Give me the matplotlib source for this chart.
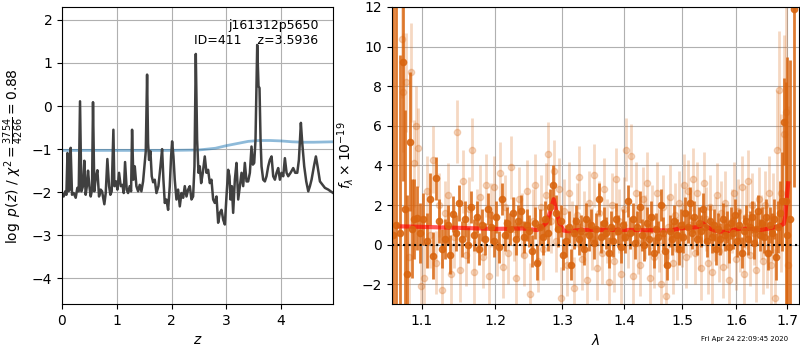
import matplotlib
matplotlib.use('Agg')
import matplotlib.pyplot as plt
from matplotlib.ticker import FixedLocator, NullLocator

# --- left panel: log p(z)
z_grid = [0.0, 0.03, 0.06, 0.08, 0.10, 0.116, 0.14, 0.158, 0.183, 0.213, 0.25, 0.28, 0.305, 0.329,
          0.353, 0.384, 0.408, 0.432, 0.457, 0.475, 0.50, 0.524, 0.548, 0.566, 0.59, 0.615, 0.646,
          0.676, 0.706, 0.731, 0.773, 0.798, 0.828, 0.859, 0.883, 0.907, 0.938, 0.956, 0.987,
          1.011, 1.041, 1.072, 1.102, 1.127, 1.151, 1.181, 1.206, 1.236, 1.261, 1.279, 1.303,
          1.328, 1.358, 1.389, 1.419, 1.449, 1.480, 1.504, 1.529, 1.553, 1.571, 1.589, 1.614,
          1.638, 1.663, 1.693, 1.724, 1.760, 1.797, 1.827, 1.851, 1.876, 1.906, 1.937, 1.967,
          1.991, 2.010, 2.034, 2.058, 2.089, 2.119, 2.150, 2.180, 2.211, 2.241, 2.272, 2.302,
          2.333, 2.363, 2.393, 2.418, 2.442, 2.466, 2.491, 2.515, 2.540, 2.570, 2.606, 2.637,
          2.667, 2.698, 2.728, 2.759, 2.789, 2.820, 2.850, 2.881, 2.911, 2.942, 2.972, 3.002,
          3.033, 3.057, 3.076, 3.100, 3.124, 3.155, 3.185, 3.216, 3.246, 3.277, 3.307, 3.337,
          3.368, 3.398, 3.429, 3.459, 3.484, 3.508, 3.532, 3.563, 3.587, 3.605, 3.624, 3.642,
          3.672, 3.703, 3.733, 3.764, 3.794, 3.825, 3.855, 3.886, 3.916, 3.946, 3.977, 4.007,
          4.038, 4.068, 4.099, 4.129, 4.172, 4.220, 4.257, 4.294, 4.324, 4.360, 4.385, 4.421,
          4.458, 4.495, 4.525, 4.555, 4.598, 4.634, 4.665, 4.708, 4.756, 4.799, 4.860, 4.903,
          4.951]
log_pz = [-2.02, -2.10, -1.98, -2.06, -1.09, -1.98, -1.94, -0.97, -2.06, -2.02, -2.13, -1.90, -1.98,
          0.11, -1.98, -1.86, -1.27, -2.06, -1.83, -1.50, -1.86, -2.10, -1.94, 0.09, -1.98, -1.67,
          -1.49, -2.10, -1.94, -1.98, -2.28, -2.02, -1.23, -1.86, -2.06, -1.98, -0.55, -1.86,
          -1.75, -1.94, -1.55, -1.86, -1.83, -2.02, -1.30, -1.94, -2.02, -1.86, -1.98, -0.55,
          -1.71, -1.40, -1.86, -1.98, -1.83, -1.98, -1.75, -1.40, -1.05, 0.73, -0.86, -1.25,
          -1.05, -1.63, -1.77, -1.71, -2.02, -1.86, -1.40, -1.00, -1.71, -2.25, -2.17, -2.41,
          -1.86, -1.17, -0.82, -1.17, -1.71, -2.17, -1.94, -2.33, -2.02, -2.13, -1.86, -2.10,
          -1.94, -1.86, -2.17, -2.10, -1.40, 1.21, -0.78, -1.55, -1.40, -1.79, -1.55, -1.17,
          -1.55, -1.48, -1.79, -1.71, -2.17, -2.25, -2.10, -2.71, -2.48, -2.41, -2.64, -2.75,
          -2.10, -1.48, -1.63, -2.17, -1.86, -2.48, -1.71, -1.32, -2.17, -1.86, -1.55, -1.86,
          -1.32, -1.75, -1.75, -1.55, -0.94, -1.36, -1.32, -0.78, 1.42, 0.46, 0.42, -0.78,
          -1.40, -1.71, -1.75, -1.63, -1.40, -1.25, -1.17, -1.63, -1.71, -1.55, -1.44, -1.71,
          -1.55, -1.63, -1.21, -1.55, -1.63, -1.55, -1.44, -1.55, -1.55, -1.25, -0.39, -0.86,
          -1.40, -1.75, -1.98, -1.86, -1.71, -1.40, -1.17, -1.40, -1.75, -1.83, -1.90, -1.94,
          -1.98, -2.02]

z_prior = [0.0, 0.5, 1.0, 1.5, 2.0, 2.5, 2.8, 3.0, 3.2, 3.4, 3.6, 3.8, 4.0, 4.2, 4.4, 4.6, 4.95]
log_prior = [-1.03, -1.03, -1.03, -1.03, -1.03, -1.02, -0.98, -0.92, -0.87, -0.82, -0.80, -0.80,
             -0.81, -0.83, -0.84, -0.84, -0.83]

# --- right panel: spectrum, first (darker) set
wave_a = [1.063, 1.067, 1.072, 1.075, 1.078, 1.081, 1.084, 1.087, 1.090, 1.094,
          1.098, 1.102, 1.106, 1.110, 1.114, 1.118, 1.122, 1.126, 1.130, 1.134,
          1.138, 1.142, 1.146, 1.150, 1.154, 1.158, 1.162, 1.166, 1.170, 1.174,
          1.178, 1.182, 1.186, 1.190, 1.194, 1.198, 1.202, 1.206, 1.210, 1.214,
          1.218, 1.222, 1.226, 1.230, 1.234, 1.238, 1.242, 1.246, 1.250, 1.254,
          1.258, 1.262, 1.266, 1.270, 1.274, 1.278, 1.282, 1.286, 1.290, 1.294,
          1.298, 1.302, 1.306, 1.310, 1.314, 1.318, 1.322, 1.326, 1.330, 1.334,
          1.338, 1.342, 1.346, 1.350, 1.354, 1.358, 1.362, 1.366, 1.370, 1.374,
          1.378, 1.382, 1.386, 1.390, 1.394, 1.398, 1.402, 1.406, 1.410, 1.414,
          1.418, 1.422, 1.426, 1.430, 1.434, 1.438, 1.442, 1.446, 1.450, 1.454,
          1.458, 1.462, 1.466, 1.470, 1.474, 1.478, 1.482, 1.486, 1.490, 1.494,
          1.498, 1.502, 1.506, 1.510, 1.514, 1.518, 1.522, 1.526, 1.530, 1.534,
          1.538, 1.542, 1.546, 1.550, 1.554, 1.558, 1.562, 1.566, 1.570, 1.574,
          1.578, 1.582, 1.586, 1.590, 1.594, 1.598, 1.602, 1.606, 1.610, 1.614,
          1.618, 1.622, 1.626, 1.630, 1.634, 1.638, 1.642, 1.646, 1.650, 1.654,
          1.658, 1.662, 1.666, 1.670, 1.674, 1.678, 1.682, 1.686, 1.690, 1.694,
          1.697, 1.700, 1.705, 1.713]
flux_a = [0.5, 1.0, 0.6, 9.2, 1.8, -1.5, 5.2, 0.8, 1.3, 1.35,
          0.6, 1.3, 0.2, 2.3, -0.55, 3.35, 1.2, -0.2, 0.3, 1.0,
          -0.5, 1.55, 0.6, 2.1, 0.3, 1.3, 0.0, 1.9, 0.5, 1.4,
          -0.2, 1.0, 0.3, 1.8, 0.9, 0.2, 1.4, -0.1, 2.3, 0.5,
          1.1, 0.8, 1.6, 0.3, 1.2, 1.7, 0.4, 1.0, 0.7, -0.3,
          1.1, -0.9, 0.9, 0.4, 1.3, 0.6, 1.9, 3.0, 1.6, 0.8,
          1.2, -0.5, 0.2, 0.9, -1.0, 0.6, 1.2, 0.3, 0.7, -0.2,
          1.3, 0.5, 1.0, 0.1, 0.8, 2.3, 0.4, 1.1, 0.6, -0.4,
          0.9, 0.2, 1.3, 0.7, -0.1, 1.0, 0.4, 2.2, 0.6, 1.3,
          0.1, 0.9, 1.9, 0.5, 0.0, 1.1, 0.3, 1.4, -0.4, 0.8,
          0.4, 2.0, 0.6, -0.3, -1.0, 0.7, 0.3, 1.2, 0.5, -0.2,
          1.0, 0.4, 1.6, 0.9, 2.1, 0.6, 1.4, 0.3, 1.1, 0.7,
          1.8, 0.9, 0.2, 1.2, 0.4, 1.0, -0.2, 0.8, 0.3, 1.3,
          0.5, 0.9, -0.1, 1.1, 0.6, 1.5, 0.2, 1.0, -0.4, 0.7,
          1.2, 0.3, 0.9, 1.4, 0.1, 0.8, 1.7, 0.5, 1.1, 0.4,
          1.4, -0.4, 1.0, 0.6, 1.3, -0.6, 0.9, 1.6, 2.2, 6.2,
          2.2, 0.5, 1.3, 11.9]
err_a = [20, 20, 9, 6, 5, 4, 3.5, 2.5, 2.0, 1.6,
         1.5, 1.3, 1.4, 1.3, 1.2, 1.1, 1.1, 1.0, 1.0, 1.0,
         1.0, 0.9, 0.9, 0.9, 0.9, 0.9, 0.9, 0.8, 0.8, 0.8,
         0.8, 0.8, 0.8, 0.8, 0.8, 0.8, 0.8, 0.8, 0.8, 0.8,
         0.8, 0.8, 0.8, 0.8, 0.8, 0.8, 0.8, 0.8, 0.8, 0.8,
         0.8, 0.9, 0.9, 0.9, 0.9, 0.9, 0.9, 1.0, 0.9, 0.9,
         0.8, 0.8, 0.8, 0.8, 0.8, 0.8, 0.8, 0.8, 0.8, 0.8,
         0.8, 0.8, 0.8, 0.8, 0.8, 0.8, 0.8, 0.8, 0.8, 0.8,
         0.8, 0.8, 0.8, 0.8, 0.8, 0.8, 0.8, 0.8, 0.8, 0.8,
         0.8, 0.8, 0.8, 0.8, 0.8, 0.8, 0.8, 0.8, 0.8, 0.8,
         0.8, 0.8, 0.8, 0.8, 0.8, 0.8, 0.8, 0.8, 0.8, 0.8,
         0.8, 0.8, 0.8, 0.8, 0.8, 0.8, 0.8, 0.8, 0.8, 0.8,
         0.8, 0.8, 0.8, 0.8, 0.8, 0.8, 0.8, 0.8, 0.8, 0.8,
         0.8, 0.8, 0.8, 0.8, 0.8, 0.8, 0.8, 0.8, 0.8, 0.8,
         0.8, 0.8, 0.8, 0.8, 0.8, 0.8, 0.8, 0.8, 0.8, 0.8,
         0.9, 0.9, 0.9, 1.0, 1.0, 1.2, 1.3, 1.6, 2.5, 2.2,
         6, 9, 8, 9]

# second (faint) set
wave_b = [1.074, 1.076, 1.079, 1.083, 1.086, 1.089, 1.092, 1.095, 1.099, 1.103,
          1.107, 1.111, 1.115, 1.119, 1.123, 1.127, 1.131, 1.135, 1.139, 1.143,
          1.147, 1.151, 1.155, 1.159, 1.163, 1.167, 1.171, 1.175, 1.179, 1.183,
          1.187, 1.191, 1.195, 1.199, 1.203, 1.207, 1.211, 1.215, 1.219, 1.223,
          1.227, 1.231, 1.235, 1.239, 1.243, 1.247, 1.251, 1.255, 1.259, 1.263,
          1.267, 1.271, 1.275, 1.279, 1.283, 1.287, 1.291, 1.295, 1.299, 1.303,
          1.307, 1.311, 1.315, 1.319, 1.323, 1.327, 1.331, 1.335, 1.339, 1.343,
          1.347, 1.351, 1.355, 1.359, 1.363, 1.367, 1.371, 1.375, 1.379, 1.383,
          1.387, 1.391, 1.395, 1.399, 1.403, 1.407, 1.411, 1.415, 1.419, 1.423,
          1.427, 1.431, 1.435, 1.439, 1.443, 1.447, 1.451, 1.455, 1.459, 1.463,
          1.467, 1.471, 1.475, 1.479, 1.483, 1.487, 1.491, 1.495, 1.499, 1.503,
          1.507, 1.511, 1.515, 1.519, 1.523, 1.527, 1.531, 1.535, 1.539, 1.543,
          1.547, 1.551, 1.555, 1.559, 1.563, 1.567, 1.571, 1.575, 1.579, 1.583,
          1.587, 1.591, 1.595, 1.599, 1.603, 1.607, 1.611, 1.615, 1.619, 1.623,
          1.627, 1.631, 1.635, 1.639, 1.643, 1.647, 1.651, 1.655, 1.659, 1.663,
          1.667, 1.671, 1.675, 1.679, 1.683, 1.688, 1.693, 1.697, 1.701]
flux_b = [10.4, 7.7, 8.2, -0.6, 8.7, 4.1, 6.0, 4.9, -2.1, -1.7,
          2.7, 0.5, 4.3, -0.9, 2.0, -2.3, 1.6, 2.5, -1.5, 0.4,
          5.7, -1.3, 3.2, -0.5, 1.8, 4.8, -1.4, 1.2, 2.4, -0.6,
          3.0, -1.6, 1.5, 2.9, 0.0, 3.6, -1.1, 1.9, -0.4, 3.9,
          0.8, -1.7, 2.3, 1.0, -0.5, 2.7, -2.5, 1.2, 3.0, -0.8,
          1.9, -0.2, 2.5, 4.6, 1.2, 3.7, 0.2, 2.8, -2.7, 1.7,
          -1.0, 2.6, 0.6, -2.2, 1.5, 3.4, -0.7, 1.1, -1.8, 2.1,
          0.3, 3.5, -1.2, 1.6, -0.4, 2.8, 0.7, -1.9, 2.0, -0.8,
          3.3, 1.2, -1.5, 1.8, 4.8, 0.4, 4.5, -1.6, 2.6, 0.1,
          -1.0, 2.3, 0.9, 3.1, -1.7, 1.4, -0.6, 2.6, 0.2, -2.0,
          1.9, -2.6, 0.9, 2.4, -0.9, 1.5, -0.2, 2.1, 0.5, 3.0,
          -0.6, 2.7, 1.0, 3.3, -0.4, 2.6, 0.3, -1.2, 3.1, 1.3,
          -0.9, 1.9, -1.4, 0.8, 2.5, -0.3, 1.6, -1.1, 2.1, 0.4,
          -1.8, 1.2, 2.6, -0.7, 1.7, 0.2, 2.9, -1.5, 1.4, 3.2,
          -0.5, 2.0, 0.6, -1.3, 2.3, 0.9, -0.8, 2.0, -0.4, 2.6,
          -1.0, 1.4, -2.7, 4.8, 7.8, 2.6, 5.6, 6.7, -1.0]
err_b = [3, 3, 2.5, 2.5, 2.5, 2.2, 2.0, 2.0, 2.0, 1.8,
         1.8, 1.7, 1.7, 1.6, 1.6, 1.6, 1.6, 1.6, 1.6, 1.6,
         1.6, 1.6, 1.6, 1.6, 1.6, 1.6, 1.6, 1.6, 1.6, 1.6,
         1.6, 1.6, 1.6, 1.6, 1.6, 1.6, 1.6, 1.6, 1.6, 1.6,
         1.6, 1.6, 1.6, 1.6, 1.6, 1.6, 1.6, 1.6, 1.6, 1.6,
         1.6, 1.6, 1.6, 1.6, 1.6, 1.6, 1.6, 1.6, 1.6, 1.6,
         1.6, 1.6, 1.6, 1.6, 1.6, 1.6, 1.6, 1.6, 1.6, 1.6,
         1.6, 1.6, 1.6, 1.6, 1.6, 1.6, 1.6, 1.6, 1.6, 1.6,
         1.6, 1.6, 1.6, 1.6, 1.6, 1.6, 1.6, 1.6, 1.6, 1.6,
         1.6, 1.6, 1.6, 1.6, 1.6, 1.6, 1.6, 1.6, 1.6, 1.6,
         1.6, 1.6, 1.6, 1.6, 1.6, 1.6, 1.6, 1.6, 1.6, 1.6,
         1.6, 1.6, 1.6, 1.6, 1.6, 1.6, 1.6, 1.6, 1.6, 1.6,
         1.6, 1.6, 1.6, 1.6, 1.6, 1.6, 1.6, 1.6, 1.6, 1.6,
         1.6, 1.6, 1.6, 1.6, 1.6, 1.6, 1.6, 1.6, 1.6, 1.6,
         1.6, 1.6, 1.6, 1.6, 1.6, 1.6, 1.7, 1.7, 1.8, 1.9,
         2.0, 2.2, 2.5, 3.0, 3.0, 4.0, 5.0, 6.0, 8.0]

wave_model = [1.070, 1.100, 1.150, 1.200, 1.240, 1.262, 1.268, 1.276, 1.283, 1.287, 1.291, 1.296,
              1.302, 1.310, 1.330, 1.400, 1.480, 1.495, 1.525, 1.533, 1.538, 1.543, 1.550, 1.562,
              1.575, 1.590, 1.605, 1.630, 1.645, 1.665, 1.685, 1.693, 1.696, 1.699, 1.702]
flux_model = [0.93, 0.90, 0.85, 0.80, 0.82, 0.74, 0.88, 1.10, 1.80, 2.30, 1.70, 1.10, 0.72,
              0.68, 0.75, 0.75, 0.72, 0.82, 0.88, 0.92, 1.08, 0.95, 0.82, 0.70, 0.65, 0.72,
              0.80, 0.80, 0.74, 0.82, 0.95, 1.05, 1.40, 2.30, 3.10]

timestamp = 'Fri Apr 24 22:09:45 2020'

fig = plt.figure(figsize=(8, 3.5), dpi=100)
ax1 = fig.add_axes([0.0775, 0.131, 0.339, 0.849])
ax2 = fig.add_axes([0.49, 0.131, 0.509, 0.849])

# p(z)
ax1.plot(z_prior, log_prior, color='#1f77b4', alpha=0.5, lw=2)
ax1.plot(z_grid, log_pz, color='#404040', lw=1.8)
ax1.set_xlim(0, 4.95)
ax1.set_ylim(-4.6, 2.3)
ax1.set_xticks([0, 1, 2, 3, 4])
ax1.set_yticks([-4, -3, -2, -1, 0, 1, 2])
ax1.grid(True, color='#b0b0b0')
ax1.set_axisbelow(True)
ax1.set_xlabel('$z$')
ax1.set_ylabel(r'$\log\ p(z)$ / $\chi^2=\frac{3754}{4266}=0.88$')
ax1.text(0.945, 0.96, 'j161312p5650\nID=411    z=3.5936', transform=ax1.transAxes,
         ha='right', va='top', fontsize=9)

# spectrum
orange = '#d9650f'
ax2.errorbar(wave_b, flux_b, yerr=err_b, color=orange, marker='o', ms=4.5, ls='none',
             elinewidth=2, alpha=0.25)
ax2.errorbar(wave_a, flux_a, yerr=err_a, color=orange, marker='o', ms=4.5, ls='none',
             elinewidth=2, alpha=0.85)
ax2.plot(wave_model, flux_model, color='r', lw=3, alpha=0.65)
ax2.axhline(0, color='k', ls=':', lw=1.5)
ax2.set_xscale('log')
ax2.set_xlim(1.0614, 1.7246)
ax2.set_ylim(-3, 12)
ax2.xaxis.set_major_locator(FixedLocator([1.1, 1.2, 1.3, 1.4, 1.5, 1.6, 1.7]))
ax2.xaxis.set_minor_locator(NullLocator())
ax2.set_xticklabels(['1.1', '1.2', '1.3', '1.4', '1.5', '1.6', '1.7'])
ax2.set_yticks([-2, 0, 2, 4, 6, 8, 10, 12])
ax2.grid(True, color='#b0b0b0')
ax2.set_axisbelow(True)
ax2.set_xlabel(r'$\lambda$')
ax2.set_ylabel(r'$f_\lambda\times 10^{-19}$')

fig.text(0.985, 0.03, timestamp, ha='right', va='center', fontsize=5)

fig.savefig('out.png', dpi=100)
